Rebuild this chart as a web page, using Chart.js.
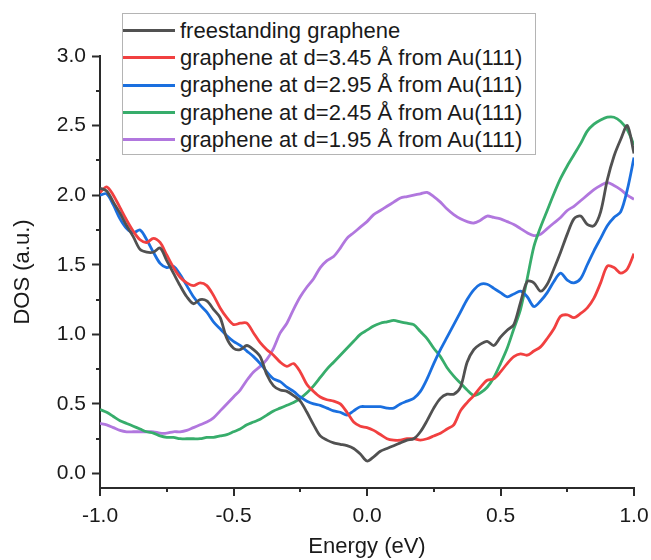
<!DOCTYPE html>
<html>
<head>
<meta charset="utf-8">
<script src="https://cdn.jsdelivr.net/npm/chart.js@4.4.1/dist/chart.umd.min.js"></script>
<style>
  body { margin: 0; background: #fff; }
  #wrap { position: relative; width: 651px; height: 560px; }
  #legend {
    position: absolute; left: 122px; top: 13px; width: 414px; height: 142px;
    box-sizing: border-box; border: 1px solid #b4b4b4; background: #fff;
    padding-top: 3px;
    font-family: "Liberation Sans", Arial, sans-serif; font-size: 22px; color: #1a1a1a;
  }
  .row { height: 27.3px; display: flex; align-items: center; white-space: nowrap; }
  .swatch { width: 52px; height: 3px; margin-right: 5px; flex: none; }
</style>
</head>
<body>
<div id="wrap">
  <canvas id="dosChart" width="651" height="560"></canvas>
  <div id="legend"></div>
</div>
<script>
// Energy grid (eV)
const energy = [
  -1.000, -0.975, -0.950, -0.925, -0.900, -0.875, -0.850, -0.825, -0.800, -0.775,
  -0.750, -0.725, -0.700, -0.675, -0.650, -0.625, -0.600, -0.575, -0.550, -0.525,
  -0.500, -0.475, -0.450, -0.425, -0.400, -0.375, -0.350, -0.325, -0.300, -0.275,
  -0.250, -0.225, -0.200, -0.175, -0.150, -0.125, -0.100, -0.075, -0.050, -0.025,
   0.000,  0.025,  0.050,  0.075,  0.100,  0.125,  0.150,  0.175,  0.200,  0.225,
   0.250,  0.275,  0.300,  0.325,  0.350,  0.375,  0.400,  0.425,  0.450,  0.475,
   0.500,  0.525,  0.550,  0.575,  0.600,  0.625,  0.650,  0.675,  0.700,  0.725,
   0.750,  0.775,  0.800,  0.825,  0.850,  0.875,  0.900,  0.925,  0.950,  0.975,
   1.000
];

// DOS series
const freestanding = [
  2.05, 2.03, 1.95, 1.87, 1.78, 1.70, 1.61, 1.59, 1.59, 1.62,
  1.53, 1.44, 1.35, 1.27, 1.22, 1.25, 1.24, 1.18, 1.12, 0.97,
  0.90, 0.89, 0.92, 0.89, 0.84, 0.71, 0.63, 0.60, 0.59, 0.56,
  0.52, 0.44, 0.35, 0.27, 0.24, 0.22, 0.21, 0.20, 0.18, 0.14,
  0.09, 0.12, 0.16, 0.18, 0.20, 0.22, 0.24, 0.25, 0.30, 0.38,
  0.47, 0.54, 0.57, 0.57, 0.62, 0.80, 0.89, 0.93, 0.95, 0.92,
  0.98, 1.03, 1.07, 1.23, 1.38, 1.37, 1.31, 1.36, 1.47, 1.59,
  1.72, 1.83, 1.85, 1.79, 1.78, 1.88, 2.11, 2.28, 2.40, 2.50,
  2.30
];
const d345 = [
  2.02, 2.06, 2.00, 1.91, 1.82, 1.74, 1.68, 1.66, 1.69, 1.66,
  1.57, 1.48, 1.41, 1.37, 1.35, 1.37, 1.35, 1.28, 1.19, 1.12,
  1.07, 1.08, 1.08, 1.01, 0.94, 0.89, 0.85, 0.80, 0.77, 0.79,
  0.73, 0.64, 0.59, 0.55, 0.53, 0.52, 0.50, 0.44, 0.37, 0.34,
  0.33, 0.31, 0.28, 0.25, 0.24, 0.24, 0.25, 0.25, 0.24, 0.25,
  0.27, 0.29, 0.32, 0.35, 0.45, 0.51, 0.56, 0.62, 0.67, 0.68,
  0.73, 0.79, 0.84, 0.86, 0.85, 0.88, 0.91, 0.97, 1.04, 1.13,
  1.14, 1.12, 1.15, 1.19, 1.26, 1.37, 1.49, 1.48, 1.44, 1.47,
  1.58
];
const d295 = [
  2.00, 2.01, 1.93, 1.83, 1.76, 1.73, 1.75, 1.68, 1.59, 1.51,
  1.48, 1.49, 1.43, 1.35, 1.27, 1.21, 1.16, 1.09, 1.04, 0.99,
  0.95, 0.92, 0.88, 0.84, 0.79, 0.73, 0.68, 0.66, 0.62, 0.59,
  0.55, 0.52, 0.50, 0.49, 0.47, 0.45, 0.44, 0.42, 0.45, 0.48,
  0.48, 0.48, 0.48, 0.47, 0.47, 0.50, 0.52, 0.54, 0.59, 0.68,
  0.79, 0.89, 0.98, 1.07, 1.16, 1.25, 1.32, 1.36, 1.36, 1.33,
  1.30, 1.27, 1.29, 1.31, 1.27, 1.20, 1.24, 1.30, 1.38, 1.44,
  1.39, 1.37, 1.40, 1.50, 1.60, 1.69, 1.78, 1.84, 1.88, 2.04,
  2.27
];
const d245 = [
  0.46, 0.44, 0.41, 0.38, 0.36, 0.34, 0.32, 0.30, 0.29, 0.27,
  0.26, 0.26, 0.25, 0.25, 0.25, 0.25, 0.26, 0.26, 0.27, 0.28,
  0.30, 0.32, 0.35, 0.37, 0.39, 0.42, 0.45, 0.47, 0.49, 0.51,
  0.54, 0.58, 0.63, 0.69, 0.75, 0.80, 0.85, 0.90, 0.95, 1.00,
  1.03, 1.06, 1.08, 1.09, 1.10, 1.09, 1.08, 1.07, 1.02, 0.97,
  0.90, 0.84, 0.76, 0.70, 0.65, 0.60, 0.56, 0.58, 0.62, 0.69,
  0.79, 0.90, 1.04, 1.18, 1.40, 1.63, 1.77, 1.89, 2.01, 2.12,
  2.21, 2.29, 2.37, 2.46, 2.51, 2.54, 2.56, 2.56, 2.53, 2.47,
  2.36
];
const d195 = [
  0.36, 0.35, 0.33, 0.31, 0.30, 0.30, 0.30, 0.30, 0.30, 0.29,
  0.29, 0.30, 0.30, 0.31, 0.33, 0.35, 0.37, 0.40, 0.45, 0.50,
  0.55, 0.60, 0.67, 0.73, 0.77, 0.82, 0.90, 1.01, 1.08, 1.18,
  1.27, 1.34, 1.40, 1.48, 1.53, 1.56, 1.62, 1.69, 1.73, 1.77,
  1.81, 1.86, 1.89, 1.92, 1.95, 1.98, 1.99, 2.00, 2.01, 2.02,
  1.99, 1.95, 1.90, 1.86, 1.83, 1.81, 1.80, 1.82, 1.85, 1.84,
  1.83, 1.81, 1.79, 1.76, 1.73, 1.71, 1.72, 1.76, 1.80, 1.84,
  1.89, 1.92, 1.96, 2.00, 2.04, 2.07, 2.09, 2.07, 2.04, 2.00,
  1.97
];

const seriesLabels = [
  'freestanding graphene',
  'graphene at d=3.45 Å from Au(111)',
  'graphene at d=2.95 Å from Au(111)',
  'graphene at d=2.45 Å from Au(111)',
  'graphene at d=1.95 Å from Au(111)'
];
const seriesData = [freestanding, d345, d295, d245, d195];
const seriesColors = ['#515151', '#f14040', '#1a6fdf', '#37ad6b', '#b177de'];

// axis ticks
const xMajor = [-1.0, -0.5, 0.0, 0.5, 1.0];
const xMinor = [-0.75, -0.25, 0.25, 0.75];
const yMajor = [0.0, 0.5, 1.0, 1.5, 2.0, 2.5, 3.0];
const yMinor = [0.25, 0.75, 1.25, 1.75, 2.25, 2.75];

const axisColor = '#2b2b2b';
const fontFamily = '"Liberation Sans", Arial, sans-serif';

// x tick marks (major 8px, minor 4px) and y minor ticks drawn by hand,
// the x scale keeps a long invisible tick so its labels sit lower
const tickMarks = {
    id: 'tickMarks',
    afterDraw(chart) {
        const { ctx, scales: { x, y } } = chart;
        ctx.save();
        ctx.strokeStyle = axisColor;
        ctx.lineWidth = 2;
        ctx.beginPath();
        xMajor.forEach(v => {
            const px = Math.round(x.getPixelForValue(v));
            ctx.moveTo(px, x.top);
            ctx.lineTo(px, x.top + 8);
        });
        xMinor.forEach(v => {
            const px = Math.round(x.getPixelForValue(v));
            ctx.moveTo(px, x.top);
            ctx.lineTo(px, x.top + 4);
        });
        yMinor.forEach(v => {
            const py = Math.round(y.getPixelForValue(v));
            ctx.moveTo(y.right, py);
            ctx.lineTo(y.right - 4, py);
        });
        ctx.stroke();
        ctx.restore();
    }
};

const ctx = document.getElementById('dosChart').getContext('2d');
const dosChart = new Chart(ctx, {
    type: 'line',
    data: {
        datasets: seriesData.map((vals, i) => ({
            label: seriesLabels[i],
            data: energy.map((e, j) => ({ x: e, y: vals[j] })),
            borderColor: seriesColors[i],
            borderWidth: 2.8,
            pointRadius: 0,
            tension: 0.3,
            fill: false
        }))
    },
    options: {
        responsive: false,
        animation: false,
        devicePixelRatio: 1,
        layout: { padding: { left: 0, right: 17, top: 56, bottom: 0 } },
        plugins: {
            legend: { display: false },
            tooltip: { enabled: false }
        },
        scales: {
            x: {
                type: 'linear',
                min: -1,
                max: 1,
                afterBuildTicks: scale => { scale.ticks = xMajor.map(v => ({ value: v })); },
                afterFit: scale => { scale.height = 72; },
                border: { display: true, color: axisColor, width: 2 },
                grid: { drawOnChartArea: false, drawTicks: true, tickLength: 16, tickColor: 'rgba(0,0,0,0)' },
                ticks: {
                    color: '#1a1a1a',
                    padding: 0,
                    maxRotation: 0,
                    font: { family: fontFamily, size: 21 },
                    callback: v => v.toFixed(1)
                },
                title: {
                    display: true,
                    text: 'Energy (eV)',
                    color: '#1a1a1a',
                    padding: { top: 0, bottom: 0 },
                    font: { family: fontFamily, size: 22 }
                }
            },
            y: {
                min: -0.104,
                max: 3.0,
                afterBuildTicks: scale => { scale.ticks = yMajor.map(v => ({ value: v })); },
                afterFit: scale => { scale.width = 100; },
                border: { display: true, color: axisColor, width: 2 },
                grid: { drawOnChartArea: false, drawTicks: true, tickLength: 8, tickWidth: 2, tickColor: axisColor },
                ticks: {
                    color: '#1a1a1a',
                    padding: 6,
                    font: { family: fontFamily, size: 21 },
                    callback: v => v.toFixed(1)
                },
                title: {
                    display: true,
                    text: 'DOS (a.u.)',
                    color: '#1a1a1a',
                    padding: { top: 10, bottom: 0 },
                    font: { family: fontFamily, size: 22 }
                }
            }
        }
    },
    plugins: [tickMarks]
});

// legend box drawn over the plot, like the original
const legend = document.getElementById('legend');
seriesLabels.forEach((label, i) => {
    const row = document.createElement('div');
    row.className = 'row';
    const swatch = document.createElement('span');
    swatch.className = 'swatch';
    swatch.style.background = seriesColors[i];
    const text = document.createElement('span');
    text.textContent = label;
    row.appendChild(swatch);
    row.appendChild(text);
    legend.appendChild(row);
});
</script>
</body>
</html>
